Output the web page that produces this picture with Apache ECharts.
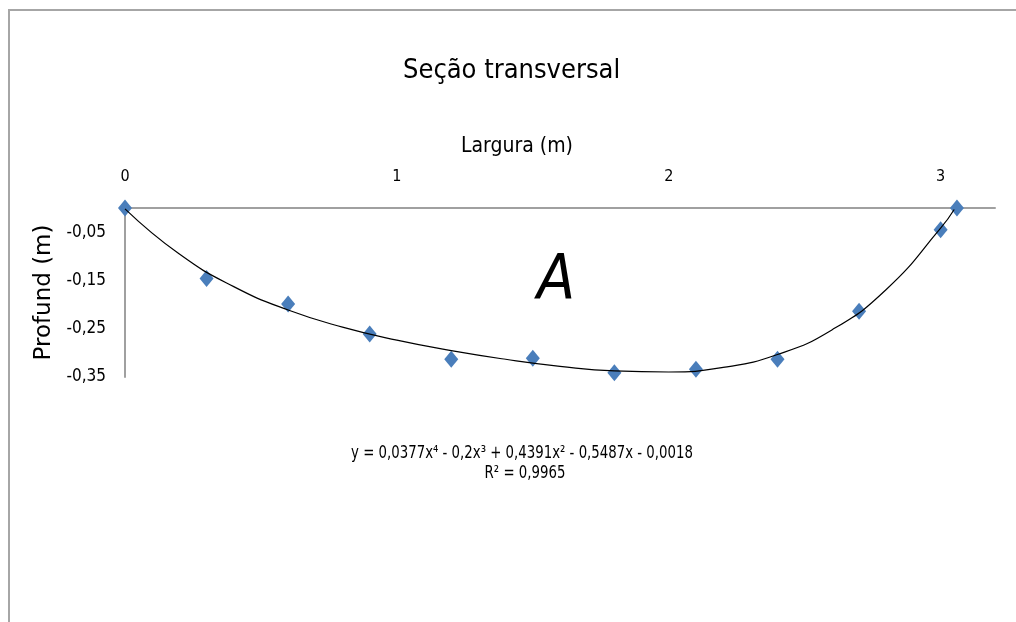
<!DOCTYPE html>
<html>
<head>
<meta charset="utf-8">
<script src="https://cdn.jsdelivr.net/npm/echarts@6/dist/echarts.min.js"></script>
<style>
html,body{margin:0;padding:0;background:#fff;}
#chart{width:1016px;height:622px;}
</style>
</head>
<body>
<div id="chart"></div>
<script>
// Measured points: width (m) and depth (m)
var larguraX = [0, 0.30, 0.60, 0.90, 1.20, 1.50, 1.80, 2.10, 2.40, 2.70, 3.00, 3.06];
var profundY = [0, -0.146, -0.199, -0.261, -0.313, -0.311, -0.341, -0.334, -0.313, -0.214, -0.045, 0];
// Trendline
var trendX = [0, 0.2, 0.4, 0.6, 0.8, 1.0, 1.2, 1.4, 1.6, 1.8, 2.0, 2.2, 2.4, 2.6, 2.8, 3.0, 3.05];
var trendY = [-0.0018, -0.0955, -0.1629, -0.2113, -0.2467, -0.2737, -0.2954, -0.3133, -0.3278, -0.3374, -0.3396, -0.3302, -0.3035, -0.2525, -0.1688, -0.0418, -0.0031];
var yTickLabels = [-0.35, -0.25, -0.15, -0.05];
var xTickLabels = [0, 1, 2, 3];

var NARROW = '"Liberation Sans Narrow", "DejaVu Sans Condensed", sans-serif';

var pts = larguraX.map(function (x, i) { return [x, profundY[i]]; });
var trend = trendX.map(function (x, i) { return [x, trendY[i]]; });

var chart = echarts.init(document.getElementById('chart'));
chart.setOption({
  animation: false,
  backgroundColor: '#ffffff',
  title: {
    text: 'Seção transversal',
    left: 403,
    top: 57,
    padding: 0,
    textStyle: { fontFamily: NARROW, fontSize: 27, fontWeight: 'normal', color: '#000' }
  },
  grid: { left: 125, top: 208, width: 870, height: 169, containLabel: false },
  xAxis: {
    type: 'value',
    position: 'top',
    min: 0, max: 3.2, interval: 1,
    name: 'Largura (m)',
    nameLocation: 'middle',
    nameGap: 51,
    nameTextStyle: { fontFamily: NARROW, fontSize: 21, color: '#000', padding: [0, 86, 0, 0] },
    axisLine: { show: true, onZero: false, lineStyle: { color: '#a0a0a0', width: 2 } },
    axisTick: { show: false },
    splitLine: { show: false },
    axisLabel: {
      margin: 23,
      fontFamily: NARROW, fontSize: 16, color: '#000',
      showMaxLabel: false,
      formatter: function (v) { return xTickLabels.indexOf(v) >= 0 ? String(v) : ''; }
    }
  },
  yAxis: {
    type: 'value',
    min: -0.35, max: 0, interval: 0.05,
    name: 'Profund (m)',
    nameLocation: 'middle',
    nameRotate: 90,
    nameGap: 61,
    nameTextStyle: { fontFamily: '"DejaVu Sans", sans-serif', fontSize: 23, color: '#000' },
    axisLine: { show: true, onZero: false, lineStyle: { color: '#a0a0a0', width: 2 } },
    axisTick: { show: false },
    splitLine: { show: false },
    axisLabel: {
      margin: 19,
      fontFamily: NARROW, fontSize: 17, color: '#000',
      formatter: function (v) {
        var r = Math.round(v * 100) / 100;
        for (var i = 0; i < yTickLabels.length; i++) {
          if (Math.abs(yTickLabels[i] - r) < 1e-6) return r.toFixed(2).replace('.', ',');
        }
        return '';
      }
    }
  },
  series: [
    {
      type: 'scatter',
      data: pts,
      symbol: 'diamond',
      symbolSize: [14, 17],
      itemStyle: { color: '#4a7ebb', opacity: 1 },
      z: 2
    },
    {
      type: 'line',
      data: trend,
      smooth: true,
      showSymbol: false,
      symbol: 'none',
      lineStyle: { color: '#000', width: 1.2 },
      z: 3
    }
  ],
  graphic: [
    {
      type: 'rect',
      shape: { x: 9, y: 10, width: 1030, height: 640 },
      style: { fill: 'none', stroke: '#a6a6a6', lineWidth: 2 },
      silent: true, z: -10
    },
    {
      type: 'text',
      x: 556, y: 283,
      style: { text: 'A', fontFamily: NARROW, fontStyle: 'italic', fontSize: 62, fill: '#000', textAlign: 'center', textVerticalAlign: 'middle' }
    },
    {
      type: 'text',
      x: 522, y: 453, scaleY: 1.2,
      style: { text: 'y = 0,0377x⁴ - 0,2x³ + 0,4391x² - 0,5487x - 0,0018', fontFamily: NARROW, fontSize: 14.8, fill: '#000', textAlign: 'center', textVerticalAlign: 'middle' }
    },
    {
      type: 'text',
      x: 525, y: 473, scaleY: 1.2,
      style: { text: 'R² = 0,9965', fontFamily: NARROW, fontSize: 14.8, fill: '#000', textAlign: 'center', textVerticalAlign: 'middle' }
    }
  ]
});
</script>
</body>
</html>
